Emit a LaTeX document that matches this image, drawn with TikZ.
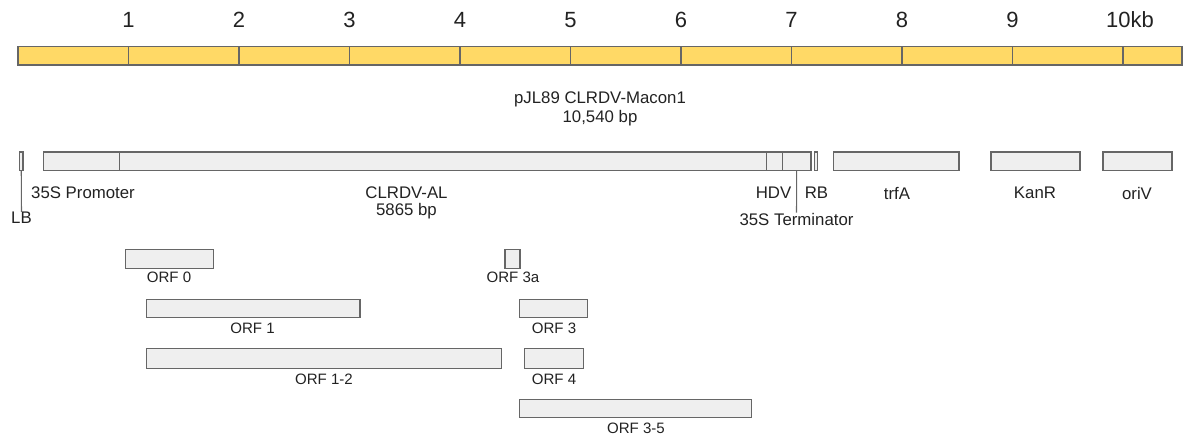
\documentclass[tikz,border=0pt]{standalone}
\usepackage{fontspec}
\setmainfont{Liberation Sans}
\definecolor{barfill}{HTML}{FFD966}
\definecolor{boxfill}{HTML}{EFEFEF}
\definecolor{edge}{HTML}{666666}
\definecolor{txt}{HTML}{222222}
\tikzset{
  seg/.style={draw=edge, fill=barfill, line width=1pt, inner sep=0pt, outer sep=0pt, anchor=north west},
  box/.style={draw=edge, fill=boxfill, line width=0.8pt, inner sep=0pt, outer sep=0pt, anchor=north west},
  big/.style={font=\fontsize{16.5}{19}\selectfont, text=txt, inner sep=0pt},
  lbl/.style={font=\fontsize{12.6}{15}\selectfont, text=txt, inner sep=0pt},
  orf/.style={font=\fontsize{11.3}{13}\selectfont, text=txt, inner sep=0pt},
  conn/.style={draw=edge, line width=0.8pt}
}
\newcommand{\mybox}[6]{\node[#1, minimum width={(#4-#3)*0.75pt}, minimum height={(#6-#5)*0.75pt}] (#2) at (#3,#5) {};}
\begin{document}
\begin{tikzpicture}[x=0.75pt,y=-0.75pt]
\useasboundingbox (0,0) rectangle (1185,437);
% scale bar
\foreach \i in {0,...,9}{
  \pgfmathsetmacro{\xa}{18+110.5*\i}
  \pgfmathsetmacro{\xb}{18+110.5*(\i+1)}
  \mybox{seg}{s\i}{\xa}{\xb}{46.5}{65}
}
\mybox{seg}{s10}{1123}{1182}{46.5}{65}
\foreach \i in {1,...,9}{
  \node[big] (n\i) at ({18+110.5*\i},20) {\i};
}
\node[big] (n10) at (1130,20) {10kb};
% title
\node[lbl] (title1) at (600,99) {pJL89 CLRDV-Macon1};
\node[lbl] (title2) at (600,118) {10,540 bp};
% construct
\mybox{box}{lb}{19.5}{23}{152}{170.5}
\mybox{box}{prom}{43.5}{119.3}{152}{170.5}
\mybox{box}{clrdv}{119.3}{766.7}{152}{170.5}
\mybox{box}{hdv}{766.7}{782.3}{152}{170.5}
\mybox{box}{term}{782.3}{811}{152}{170.5}
\mybox{box}{rb}{814.5}{817.5}{152}{170.5}
\mybox{box}{trfa}{833.3}{959}{152}{170.5}
\mybox{box}{kanr}{991}{1080}{152}{170.5}
\mybox{box}{oriv}{1103}{1172}{152}{170.5}
\node[lbl] (lblLB) at (21.5,218) {LB};
\node[lbl] (lblProm) at (83,193) {35S Promoter};
\node[lbl] (lblClr1) at (406.5,193) {CLRDV-AL};
\node[lbl] (lblClr2) at (406.5,211) {5865 bp};
\node[lbl] (lblHDV) at (773.5,193) {HDV};
\node[lbl] (lblRB) at (816.5,193) {RB};
\node[lbl] (lblTerm) at (796.5,219) {35S Terminator};
\node[lbl] (lblTrfA) at (897,193) {trfA};
\node[lbl] (lblKanR) at (1035,193) {KanR};
\node[lbl] (lblOriV) at (1137,193) {oriV};
\draw[conn] (lb.south) -- (lblLB.north);
\draw[conn] (term.south) -- (lblTerm.north);
% ORFs
\mybox{box}{orf0}{125.7}{213.3}{249.3}{268.3}
\mybox{box}{orf1}{146.7}{360}{299.3}{317.3}
\mybox{box}{orf12}{146.7}{501.7}{348.3}{368.3}
\mybox{box}{orf3a}{505}{520}{249.3}{268.3}
\mybox{box}{orf3}{519.3}{587.7}{299.3}{317.3}
\mybox{box}{orf4}{524.3}{583.7}{348.3}{368.3}
\mybox{box}{orf35}{519.3}{751.7}{399.3}{417.7}
\node[orf] (lorf0) at (169,277) {ORF 0};
\node[orf] (lorf1) at (252.5,328) {ORF 1};
\node[orf] (lorf12) at (324,379) {ORF 1-2};
\node[orf] (lorf3a) at (513,277) {ORF 3a};
\node[orf] (lorf3) at (554,328) {ORF 3};
\node[orf] (lorf4) at (554,379) {ORF 4};
\node[orf] (lorf35) at (636,428) {ORF 3-5};
\end{tikzpicture}
\end{document}
